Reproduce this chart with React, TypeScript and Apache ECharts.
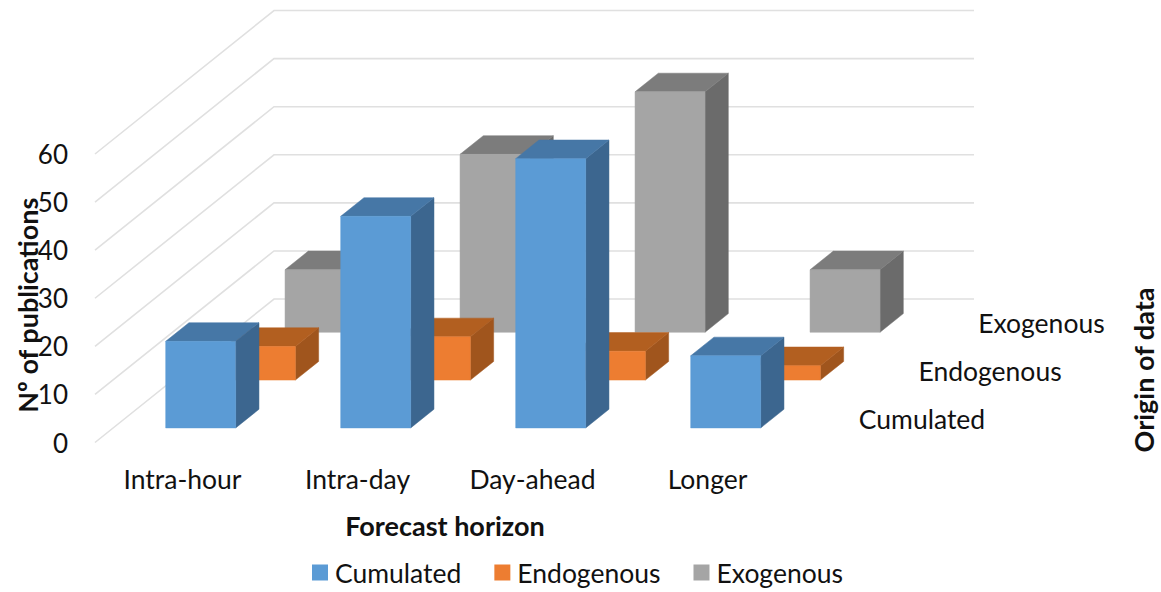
import React, { useEffect, useRef } from "react";
import * as echarts from "echarts";

// Publications per forecast horizon and origin of data
const horizons = ["Intra-hour", "Intra-day", "Day-ahead", "Longer"];
const origins = ["Cumulated", "Endogenous", "Exogenous"];
const cumulated = [18, 44, 56, 15];
const endogenous = [7, 9, 6, 3];
const exogenous = [13, 37, 50, 13];
const valueTicks = [0, 10, 20, 30, 40, 50, 60];

const FONT = 'Lato, "Open Sans", sans-serif';
const TEXT = "#111111";
const LABEL_SIZE = 26.5;
const TICK_SIZE = 26;
const TITLE_SIZE = 27;

// Oblique projection: one depth row moves a point right and up by this much
const ROW_DX = 59.67;
const ROW_DY = -47.83;
// Share of a row and of a category band taken up by a bar
const BAR_NEAR = 0.305;
const BAR_FAR = 0.695;
const BAR_WIDTH = 0.4;

const shades = [
  { front: "#5b9bd5", top: "#4677a6", side: "#3c668f" },
  { front: "#ed7d31", top: "#b25f20", side: "#a0551d" },
  { front: "#a5a5a5", top: "#7c7c7c", side: "#6b6b6b" },
];

const shift = (p: number[], depth: number) => [p[0] + depth * ROW_DX, p[1] + depth * ROW_DY];

// A bar as three visible faces, standing on its own depth row
const barRenderer = (row: number) => (_params: any, api: any) => {
  const cat = api.value(0);
  const band = api.size([1, 0])[0];
  const half = (band * BAR_WIDTH) / 2;
  const base = api.coord([cat, 0]);
  const tip = api.coord([cat, api.value(1)]);
  const near = row + BAR_NEAR;
  const far = row + BAR_FAR;
  const c = shades[row];
  const corner = (dx: number, y: number, depth: number) => shift([base[0] + dx, y], depth);
  const face = (points: number[][], fill: string) => ({
    type: "polygon",
    shape: { points },
    style: { fill, stroke: fill, lineWidth: 0.5 },
  });
  return {
    type: "group",
    children: [
      face(
        [corner(half, base[1], near), corner(half, tip[1], near), corner(half, tip[1], far), corner(half, base[1], far)],
        c.side
      ),
      face(
        [corner(-half, tip[1], near), corner(half, tip[1], near), corner(half, tip[1], far), corner(-half, tip[1], far)],
        c.top
      ),
      face(
        [corner(-half, base[1], near), corner(half, base[1], near), corner(half, tip[1], near), corner(-half, tip[1], near)],
        c.front
      ),
    ],
  };
};

// Gridline running along the side wall and then across the back wall
const wallRenderer = (_params: any, api: any) => {
  const band = api.size([1, 0])[0];
  const first = api.coord([0, api.value(0)]);
  const last = api.coord([horizons.length - 1, api.value(0)]);
  const start = [first[0] - band / 2, first[1]];
  const end = [last[0] + band / 2, last[1]];
  return {
    type: "polyline",
    shape: { points: [start, shift(start, origins.length), shift(end, origins.length)] },
    style: { stroke: "#e0e0e0", lineWidth: 1.6, fill: "none" },
  };
};

// Row names along the right edge of the floor
const rowLabelRenderer = (_params: any, api: any) => {
  const row = api.value(0);
  const band = api.size([1, 0])[0];
  const last = api.coord([horizons.length - 1, 0]);
  const p = shift([last[0] + band / 2, last[1]], row + 0.5);
  return {
    type: "text",
    x: p[0] + 34,
    y: p[1],
    style: {
      text: origins[row],
      fontFamily: FONT,
      fontSize: LABEL_SIZE,
      fill: TEXT,
      align: "left",
      verticalAlign: "middle",
    },
  };
};

const barSeries = (row: number, values: number[]) => ({
  type: "custom",
  name: origins[row],
  z: 4 - row * 0.5,
  clip: false,
  silent: true,
  renderItem: barRenderer(row),
  encode: { x: 0, y: 1 },
  itemStyle: { color: shades[row].front },
  data: values.map((v, i) => [i, v]),
});

export default function App() {
  const ref = useRef<HTMLDivElement>(null);

  useEffect(() => {
    document.body.style.margin = "0";
    const chart = echarts.init(ref.current!, undefined, { renderer: "svg" });
    chart.setOption({
      animation: false,
      backgroundColor: "#ffffff",
      textStyle: { fontFamily: FONT },
      grid: { left: 95, width: 700, top: 154, height: 288.5, outerBoundsMode: "none" },
      xAxis: {
        type: "category",
        data: horizons,
        axisLine: { show: false },
        axisTick: { show: false },
        axisLabel: { fontFamily: FONT, fontSize: LABEL_SIZE, color: TEXT, margin: 23 },
        name: "Forecast horizon",
        nameLocation: "middle",
        nameMoveOverlap: false,
        nameGap: 69,
        nameTextStyle: { fontFamily: FONT, fontSize: TITLE_SIZE, fontWeight: "bold", color: TEXT },
      },
      yAxis: {
        type: "value",
        min: 0,
        max: 60,
        interval: 10,
        axisLine: { show: false },
        axisTick: { show: false },
        splitLine: { show: false },
        axisLabel: { fontFamily: FONT, fontSize: TICK_SIZE, color: TEXT, margin: 27 },
        name: "Nº of publications",
        nameLocation: "middle",
        nameRotate: 90,
        nameMoveOverlap: false,
        nameGap: 54,
        nameTextStyle: {
          fontFamily: FONT,
          fontSize: TITLE_SIZE,
          fontWeight: "bold",
          color: TEXT,
          padding: [0, 14, 0, 0],
        },
      },
      legend: {
        data: origins,
        left: 307,
        top: 554,
        icon: "rect",
        itemWidth: 16,
        itemHeight: 16,
        itemGap: 33,
        selectedMode: false,
        textStyle: { fontFamily: FONT, fontSize: LABEL_SIZE, color: TEXT, padding: [0, 0, 0, 2] },
      },
      graphic: [
        {
          type: "text",
          x: 1143,
          y: 370,
          rotation: Math.PI / 2,
          style: {
            text: "Origin of data",
            fontFamily: FONT,
            fontSize: TITLE_SIZE,
            fontWeight: "bold",
            fill: TEXT,
            align: "center",
            verticalAlign: "middle",
          },
        },
      ],
      series: [
        {
          type: "custom",
          name: "wall",
          z: 1,
          clip: false,
          silent: true,
          renderItem: wallRenderer,
          encode: { x: -1, y: 0 },
          data: valueTicks.map((v) => [v]),
        },
        {
          type: "custom",
          name: "rows",
          z: 1,
          clip: false,
          silent: true,
          renderItem: rowLabelRenderer,
          encode: { x: -1, y: -1 },
          data: origins.map((_, i) => [i]),
        },
        barSeries(0, cumulated),
        barSeries(1, endogenous),
        barSeries(2, exogenous),
      ],
    });
    return () => chart.dispose();
  }, []);

  return <div ref={ref} style={{ width: 1161, height: 592 }} />;
}
